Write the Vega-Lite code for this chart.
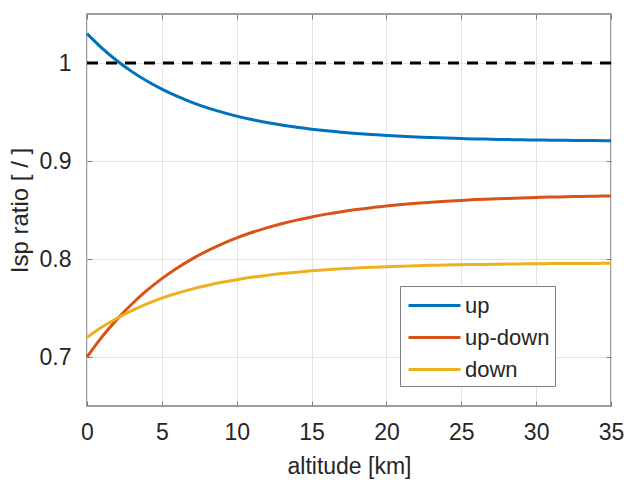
{
  "$schema": "https://vega.github.io/schema/vega-lite/v6.json",
  "width": 524,
  "height": 392,
  "autosize": {"type": "none"},
  "padding": {"left": 87, "top": 14, "right": 17, "bottom": 74},
  "background": "white",
  "config": {
    "font": "Liberation Sans",
    "view": {"stroke": "#7f7f7f", "strokeWidth": 1.5},
    "axis": {
      "labelFont": "Liberation Sans",
      "titleFont": "Liberation Sans",
      "labelFontSize": 23,
      "titleFontSize": 24,
      "titleFontWeight": "normal",
      "labelColor": "#262626",
      "titleColor": "#262626",
      "gridColor": "#e3e3e3",
      "gridWidth": 1,
      "domain": false,
      "labelFlush": false,
      "tickColor": "#7f7f7f",
      "tickSize": -5,
      "tickWidth": 1
    }
  },
  "resolve": {"axis": {"x": "independent", "y": "independent"}},
  "datasets": {
    "curves": [
      {"h": 0, "s": "up", "v": 1.030}, {"h": 1, "s": "up", "v": 1.0152}, {"h": 2, "s": "up", "v": 1.0023}, {"h": 3, "s": "up", "v": 0.9912}, {"h": 4, "s": "up", "v": 0.9816}, {"h": 5, "s": "up", "v": 0.9733}, {"h": 6, "s": "up", "v": 0.9661}, {"h": 7, "s": "up", "v": 0.9599}, {"h": 8, "s": "up", "v": 0.9545}, {"h": 9, "s": "up", "v": 0.9499}, {"h": 10, "s": "up", "v": 0.9458}, {"h": 11, "s": "up", "v": 0.9423}, {"h": 12, "s": "up", "v": 0.9393}, {"h": 13, "s": "up", "v": 0.9367}, {"h": 14, "s": "up", "v": 0.9345}, {"h": 15, "s": "up", "v": 0.9325}, {"h": 16, "s": "up", "v": 0.9308}, {"h": 17, "s": "up", "v": 0.9294}, {"h": 18, "s": "up", "v": 0.9281}, {"h": 19, "s": "up", "v": 0.9270}, {"h": 20, "s": "up", "v": 0.9261}, {"h": 21, "s": "up", "v": 0.9252}, {"h": 22, "s": "up", "v": 0.9245}, {"h": 23, "s": "up", "v": 0.9239}, {"h": 24, "s": "up", "v": 0.9234}, {"h": 25, "s": "up", "v": 0.9229}, {"h": 26, "s": "up", "v": 0.9225}, {"h": 27, "s": "up", "v": 0.9222}, {"h": 28, "s": "up", "v": 0.9219}, {"h": 29, "s": "up", "v": 0.9216}, {"h": 30, "s": "up", "v": 0.9214}, {"h": 31, "s": "up", "v": 0.9212}, {"h": 32, "s": "up", "v": 0.9211}, {"h": 33, "s": "up", "v": 0.9209}, {"h": 34, "s": "up", "v": 0.9208}, {"h": 35, "s": "up", "v": 0.9207},
      {"h": 0, "s": "up-down", "v": 0.700}, {"h": 1, "s": "up-down", "v": 0.7205}, {"h": 2, "s": "up-down", "v": 0.7384}, {"h": 3, "s": "up-down", "v": 0.7541}, {"h": 4, "s": "up-down", "v": 0.7679}, {"h": 5, "s": "up-down", "v": 0.7800}, {"h": 6, "s": "up-down", "v": 0.7906}, {"h": 7, "s": "up-down", "v": 0.7999}, {"h": 8, "s": "up-down", "v": 0.8081}, {"h": 9, "s": "up-down", "v": 0.8152}, {"h": 10, "s": "up-down", "v": 0.8215}, {"h": 11, "s": "up-down", "v": 0.8270}, {"h": 12, "s": "up-down", "v": 0.8318}, {"h": 13, "s": "up-down", "v": 0.8360}, {"h": 14, "s": "up-down", "v": 0.8397}, {"h": 15, "s": "up-down", "v": 0.8429}, {"h": 16, "s": "up-down", "v": 0.8458}, {"h": 17, "s": "up-down", "v": 0.8483}, {"h": 18, "s": "up-down", "v": 0.8505}, {"h": 19, "s": "up-down", "v": 0.8524}, {"h": 20, "s": "up-down", "v": 0.8540}, {"h": 21, "s": "up-down", "v": 0.8555}, {"h": 22, "s": "up-down", "v": 0.8568}, {"h": 23, "s": "up-down", "v": 0.8579}, {"h": 24, "s": "up-down", "v": 0.8589}, {"h": 25, "s": "up-down", "v": 0.8598}, {"h": 26, "s": "up-down", "v": 0.8606}, {"h": 27, "s": "up-down", "v": 0.8612}, {"h": 28, "s": "up-down", "v": 0.8618}, {"h": 29, "s": "up-down", "v": 0.8623}, {"h": 30, "s": "up-down", "v": 0.8628}, {"h": 31, "s": "up-down", "v": 0.8632}, {"h": 32, "s": "up-down", "v": 0.8635}, {"h": 33, "s": "up-down", "v": 0.8638}, {"h": 34, "s": "up-down", "v": 0.8641}, {"h": 35, "s": "up-down", "v": 0.8643},
      {"h": 0, "s": "down", "v": 0.720}, {"h": 1, "s": "down", "v": 0.7305}, {"h": 2, "s": "down", "v": 0.7396}, {"h": 3, "s": "down", "v": 0.7474}, {"h": 4, "s": "down", "v": 0.7542}, {"h": 5, "s": "down", "v": 0.7600}, {"h": 6, "s": "down", "v": 0.7650}, {"h": 7, "s": "down", "v": 0.7693}, {"h": 8, "s": "down", "v": 0.7730}, {"h": 9, "s": "down", "v": 0.7762}, {"h": 10, "s": "down", "v": 0.7789}, {"h": 11, "s": "down", "v": 0.7813}, {"h": 12, "s": "down", "v": 0.7833}, {"h": 13, "s": "down", "v": 0.7851}, {"h": 14, "s": "down", "v": 0.7866}, {"h": 15, "s": "down", "v": 0.7879}, {"h": 16, "s": "down", "v": 0.7890}, {"h": 17, "s": "down", "v": 0.7900}, {"h": 18, "s": "down", "v": 0.7908}, {"h": 19, "s": "down", "v": 0.7915}, {"h": 20, "s": "down", "v": 0.7922}, {"h": 21, "s": "down", "v": 0.7927}, {"h": 22, "s": "down", "v": 0.7931}, {"h": 23, "s": "down", "v": 0.7935}, {"h": 24, "s": "down", "v": 0.7939}, {"h": 25, "s": "down", "v": 0.7942}, {"h": 26, "s": "down", "v": 0.7944}, {"h": 27, "s": "down", "v": 0.7946}, {"h": 28, "s": "down", "v": 0.7948}, {"h": 29, "s": "down", "v": 0.7950}, {"h": 30, "s": "down", "v": 0.7951}, {"h": 31, "s": "down", "v": 0.7953}, {"h": 32, "s": "down", "v": 0.7954}, {"h": 33, "s": "down", "v": 0.7954}, {"h": 34, "s": "down", "v": 0.7955}, {"h": 35, "s": "down", "v": 0.7956}
    ],
    "ref": [{"h": 0, "v": 1}, {"h": 35, "v": 1}]
  },
  "layer": [
    {
      "data": {"name": "ref"},
      "mark": {"type": "line", "color": "black", "strokeWidth": 3, "strokeDash": [11, 8]},
      "encoding": {
        "x": {
          "field": "h", "type": "quantitative",
          "scale": {"domain": [0, 35], "nice": false, "zero": false},
          "axis": {"orient": "top", "values": [0, 5, 10, 15, 20, 25, 30, 35], "labels": false, "title": null, "grid": false}
        },
        "y": {
          "field": "v", "type": "quantitative",
          "scale": {"domain": [0.65, 1.05], "nice": false, "zero": false},
          "axis": {"orient": "right", "values": [0.7, 0.8, 0.9, 1], "labels": false, "title": null, "grid": false}
        }
      }
    },
    {
      "data": {"name": "curves"},
      "mark": {"type": "line", "strokeWidth": 3, "interpolate": "monotone"},
      "encoding": {
        "x": {
          "field": "h", "type": "quantitative",
          "scale": {"domain": [0, 35], "nice": false, "zero": false},
          "axis": {"orient": "bottom", "values": [0, 5, 10, 15, 20, 25, 30, 35], "title": "altitude [km]", "titleFontSize": 23, "labelPadding": 20, "titlePadding": 11, "grid": true}
        },
        "y": {
          "field": "v", "type": "quantitative",
          "scale": {"domain": [0.65, 1.05], "nice": false, "zero": false},
          "axis": {"orient": "left", "values": [0.7, 0.8, 0.9, 1], "format": "~g", "title": "Isp ratio [ / ]", "labelPadding": 21, "titlePadding": 7, "grid": true}
        },
        "color": {
          "field": "s", "type": "nominal",
          "scale": {"domain": ["up", "up-down", "down"], "range": ["#0072BD", "#D95319", "#EDB120"]},
          "legend": {
            "title": null,
            "orient": "none",
            "legendX": 313,
            "legendY": 272,
            "symbolType": "M-2,0H2",
            "symbolSize": 676,
            "symbolOffset": 15,
            "symbolStrokeWidth": 3,
            "labelFontSize": 22,
            "labelFont": "Liberation Sans",
            "labelColor": "#262626",
            "labelOffset": 16,
            "rowPadding": 6,
            "padding": 5,
            "fillColor": "white",
            "strokeColor": "#7f7f7f",
            "cornerRadius": 0
          }
        }
      }
    }
  ]
}
